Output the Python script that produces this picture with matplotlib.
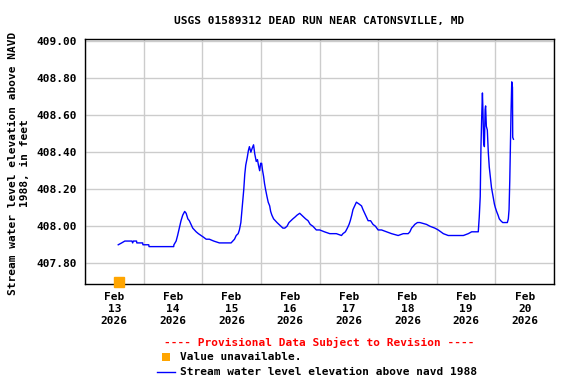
import matplotlib
matplotlib.use("Agg")
import matplotlib.pyplot as plt
import matplotlib.dates as mdates
from matplotlib.lines import Line2D
from matplotlib.patches import Rectangle
import numpy as np
import pandas as pd

title = "USGS 01589312 DEAD RUN NEAR CATONSVILLE, MD"
ylabel = "Stream water level elevation above NAVD\n1988, in feet"
start = pd.Timestamp("2026-02-13 00:00")

# hours since Feb 13 00:00
hours = [1.6, 3.0, 4.3, 7.2, 7.5, 7.8, 9.1, 9.2, 11.6, 11.7, 14.1, 14.2, 15.4, 24.3, 24.4,
         25.3, 25.9, 26.6, 27.3, 28.0, 28.8, 29.4, 30.1, 30.7, 31.4, 32.1, 32.8, 33.5, 34.4,
         35.5, 36.6, 37.6, 38.9, 40.7, 43.0, 44.4, 47.8, 48.5, 49.2, 49.9, 50.7, 51.2, 51.8,
         52.2, 52.6, 53.0, 53.4, 53.8, 54.4, 54.9, 55.3, 55.9, 56.4, 57.0, 57.5, 58.1, 58.6,
         59.0, 59.5, 59.9, 60.3, 60.7, 61.1, 61.5, 61.9, 62.5, 63.0, 63.6, 64.0, 64.5, 65.2,
         65.9, 66.6, 67.4, 68.2, 69.0, 69.8, 70.7, 71.5, 72.3, 73.1, 74.0, 74.8, 75.9, 76.7,
         77.5, 78.3, 79.3, 80.2, 81.3, 82.7, 84.1, 86.0, 88.2, 90.9, 93.0, 93.6, 94.6, 95.4,
         96.1, 96.6, 97.2, 97.7, 98.4, 99.1, 100.2, 101.2, 101.8, 102.5, 103.2, 103.9, 104.9,
         105.9, 106.9, 108.0, 109.4, 111.4, 113.5, 116.2, 118.3, 120.3, 121.0, 121.7, 122.4,
         123.0, 124.1, 125.1, 127.8, 129.2, 131.2, 132.6, 134.7, 136.7, 142.9, 144.9, 146.3,
         149.0, 149.4, 149.8, 150.1, 150.4, 150.7, 150.9, 151.2, 151.5, 151.8, 152.0, 152.3,
         152.7, 153.1, 153.5, 153.9, 154.4, 154.8, 155.2, 155.6, 156.0, 156.5, 157.1, 157.6,
         158.2, 159.0, 160.9, 161.3, 161.6, 161.9, 162.2, 162.4, 162.7, 163.0, 163.1, 163.4]

elev = [407.90, 407.91, 407.92, 407.92, 407.91, 407.92, 407.92, 407.91, 407.91, 407.90,
        407.90, 407.89, 407.89, 407.89, 407.90, 407.92, 407.95, 407.99, 408.03, 408.06,
        408.08, 408.07, 408.04, 408.03, 408.01, 407.99, 407.98, 407.97, 407.96, 407.95,
        407.94, 407.93, 407.93, 407.92, 407.91, 407.91, 407.91, 407.92, 407.93, 407.95,
        407.96, 407.98, 408.02, 408.08, 408.14, 408.20, 408.28, 408.33, 408.37, 408.41,
        408.43, 408.40, 408.42, 408.44, 408.39, 408.35, 408.36, 408.33, 408.30, 408.34,
        408.34, 408.30, 408.27, 408.23, 408.20, 408.16, 408.13, 408.11, 408.08, 408.06,
        408.04, 408.03, 408.02, 408.01, 408.00, 407.99, 407.99, 408.00, 408.02, 408.03,
        408.04, 408.05, 408.06, 408.07, 408.06, 408.05, 408.04, 408.03, 408.01, 408.00,
        407.98, 407.98, 407.97, 407.96, 407.96, 407.95, 407.96, 407.97, 407.99, 408.01,
        408.03, 408.06, 408.09, 408.11, 408.13, 408.12, 408.11, 408.09, 408.07, 408.05,
        408.03, 408.03, 408.01, 408.00, 407.98, 407.98, 407.97, 407.96, 407.95, 407.96,
        407.96, 407.97, 407.99, 408.00, 408.01, 408.02, 408.02, 408.01, 408.00, 407.99,
        407.98, 407.96, 407.95, 407.95, 407.96, 407.97, 407.97, 408.05, 408.16, 408.43,
        408.59, 408.72, 408.63, 408.45, 408.43, 408.63, 408.65, 408.54, 408.52, 408.40,
        408.32, 408.27, 408.21, 408.18, 408.15, 408.12, 408.10, 408.08, 408.06, 408.04,
        408.03, 408.02, 408.02, 408.04, 408.09, 408.25, 408.47, 408.61, 408.78, 408.75,
        408.48, 408.47]

unavail_hours = [1.9]
unavail_elev = [407.70]

yticks = [407.80, 408.00, 408.20, 408.40, 408.60, 408.80, 409.00]

times = start + pd.to_timedelta(hours, unit="h")
utimes = start + pd.to_timedelta(unavail_hours, unit="h")

font = "DejaVu Sans Mono"
plt.rcParams["font.family"] = font
plt.rcParams["font.weight"] = "bold"
plt.rcParams["font.size"] = 8

fig = plt.figure(figsize=(5.76, 3.84), dpi=100)
ax = fig.add_axes([0.1476, 0.2604, 0.8142, 0.6373])

ax.plot(times, elev, color="#0000ff", lw=1.0, zorder=3)
ax.plot(utimes, unavail_elev, marker="s", color="#ffa500", ms=6.5, ls="none",
        clip_on=False, zorder=4)

ax.set_xlim(pd.Timestamp("2026-02-12 12:00"), pd.Timestamp("2026-02-20 12:00"))
ax.set_ylim(407.688, 409.01)

ax.set_yticks(yticks)
ax.set_yticklabels([f"{v:.2f}" for v in yticks])
ax.xaxis.set_major_locator(mdates.DayLocator())
ax.xaxis.set_major_formatter(mdates.DateFormatter("%b\n%d\n%Y"))
ax.xaxis.set_minor_locator(mdates.HourLocator(byhour=[12]))
ax.grid(False, axis="x", which="major")
ax.grid(True, axis="x", which="minor", color="#cccccc", lw=1)
ax.grid(True, axis="y", which="major", color="#cccccc", lw=1)
ax.tick_params(axis="both", which="both", length=0)
ax.tick_params(axis="x", pad=6)
ax.tick_params(axis="y", pad=6)
for lab in ax.get_xticklabels():
    lab.set_ha("center")
    lab.set_linespacing(1.25)
for s in ax.spines.values():
    s.set_linewidth(1.0)
    s.set_color("black")
ax.set_axisbelow(True)

fig.text(0.5547, 0.945, title, ha="center", va="center", fontsize=8, weight="bold")
fig.text(0.033, 0.575, ylabel, rotation=90, ha="center", va="center",
         fontsize=8, weight="bold", linespacing=1.3)

fig.text(0.5547, 0.107, "---- Provisional Data Subject to Revision ----",
         color="#ff0000", ha="center", va="center", fontsize=8, weight="bold")
fig.patches.append(Rectangle((0.281, 0.060), 0.0145, 0.022, transform=fig.transFigure,
                             facecolor="#ffa500", edgecolor="none"))
fig.text(0.3125, 0.071, "Value unavailable.", ha="left", va="center", fontsize=8, weight="bold")
fig.lines.append(Line2D([0.272, 0.303], [0.030, 0.030], transform=fig.transFigure,
                        color="#0000ff", lw=1.0))
fig.text(0.3125, 0.030, "Stream water level elevation above navd 1988",
         ha="left", va="center", fontsize=8, weight="bold")

fig.savefig("out.png", dpi=100)
